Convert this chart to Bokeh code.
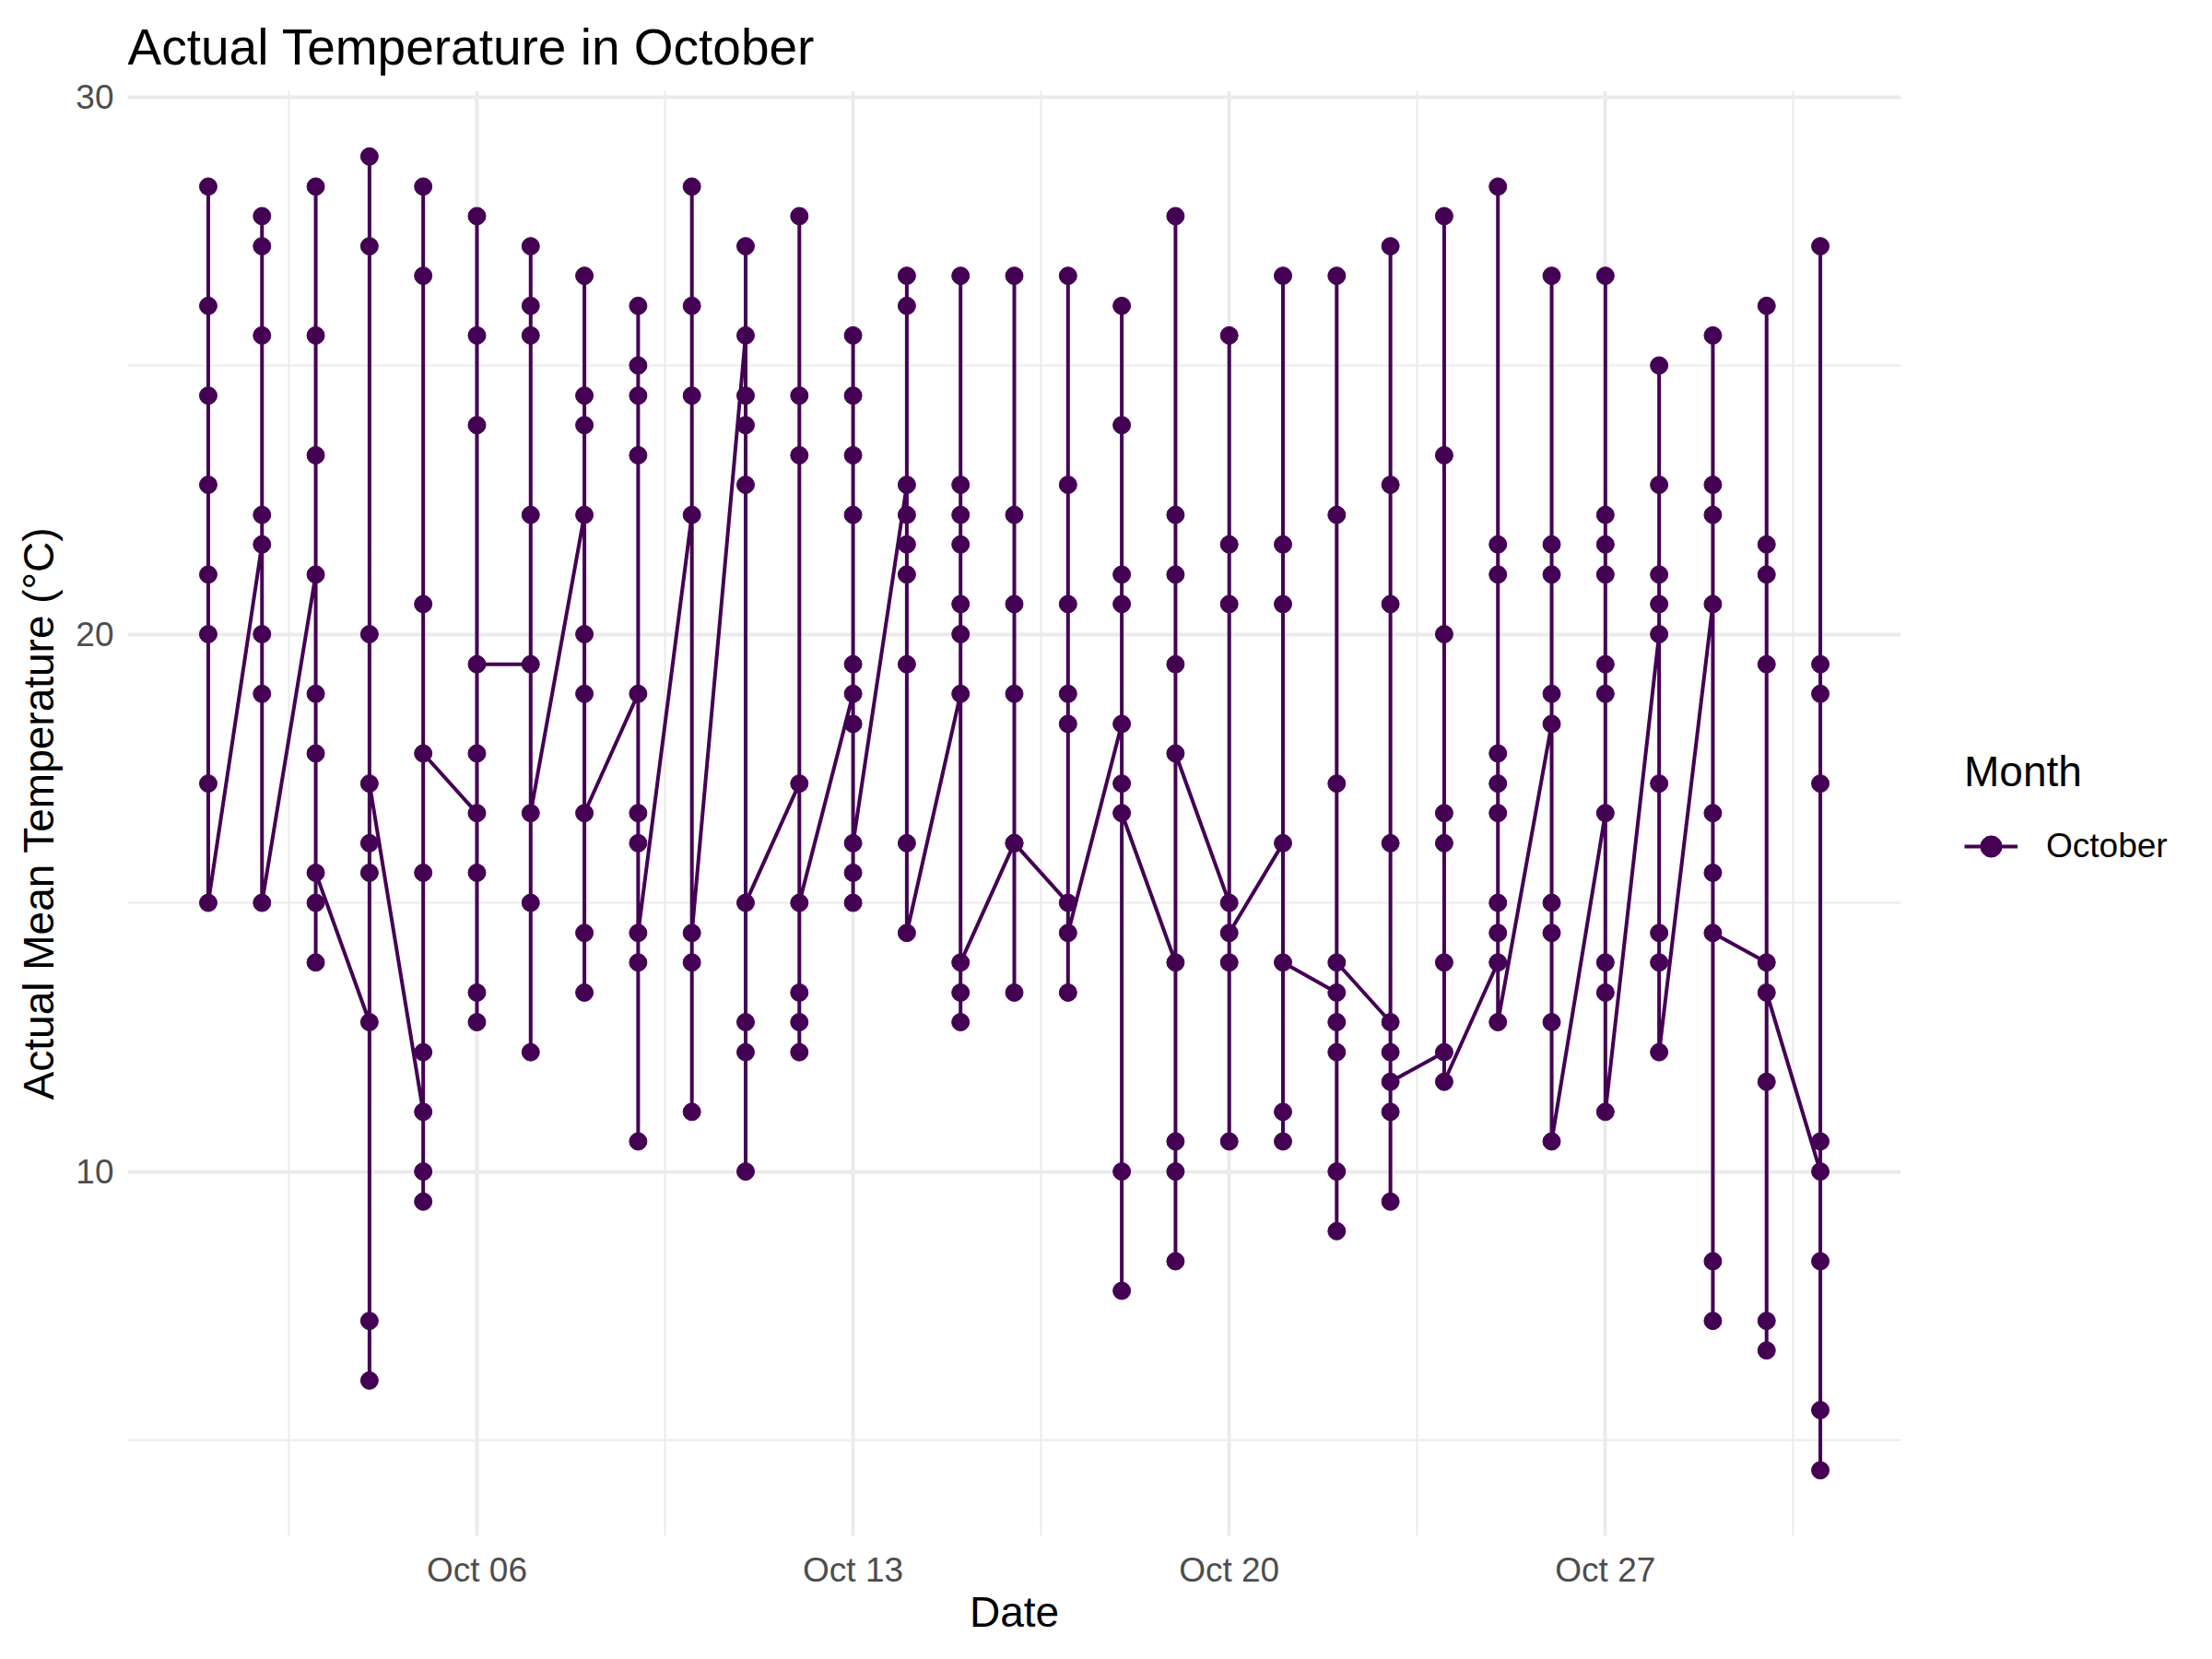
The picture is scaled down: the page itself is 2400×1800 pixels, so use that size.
from bokeh.plotting import figure
from bokeh.models import FixedTicker, Legend, LegendItem, Range1d, ColumnDataSource
from bokeh.embed import file_html
from bokeh.resources import INLINE

# Day of October for every observation (several years per day)
obs_day = [
    1, 1, 1, 1, 1, 1, 1, 1,
    2, 2, 2, 2, 2, 2, 2, 2,
    3, 3, 3, 3, 3, 3, 3, 3, 3,
    4, 4, 4, 4, 4, 4, 4, 4, 4,
    5, 5, 5, 5, 5, 5, 5, 5, 5,
    6, 6, 6, 6, 6, 6, 6, 6, 6,
    7, 7, 7, 7, 7, 7, 7, 7,
    8, 8, 8, 8, 8, 8, 8, 8, 8,
    9, 9, 9, 9, 9, 9, 9, 9, 9, 9,
    10, 10, 10, 10, 10, 10, 10,
    11, 11, 11, 11, 11, 11, 11, 11, 11,
    12, 12, 12, 12, 12, 12, 12, 12,
    13, 13, 13, 13, 13, 13, 13, 13, 13, 13,
    14, 14, 14, 14, 14, 14, 14, 14, 14,
    15, 15, 15, 15, 15, 15, 15, 15, 15, 15,
    16, 16, 16, 16, 16, 16, 16,
    17, 17, 17, 17, 17, 17, 17, 17,
    18, 18, 18, 18, 18, 18, 18, 18, 18,
    19, 19, 19, 19, 19, 19, 19, 19, 19,
    20, 20, 20, 20, 20, 20, 20,
    21, 21, 21, 21, 21, 21, 21,
    22, 22, 22, 22, 22, 22, 22, 22, 22,
    23, 23, 23, 23, 23, 23, 23, 23, 23,
    24, 24, 24, 24, 24, 24, 24, 24,
    25, 25, 25, 25, 25, 25, 25, 25, 25, 25,
    26, 26, 26, 26, 26, 26, 26, 26, 26,
    27, 27, 27, 27, 27, 27, 27, 27, 27, 27,
    28, 28, 28, 28, 28, 28, 28, 28, 28,
    29, 29, 29, 29, 29, 29, 29, 29, 29,
    30, 30, 30, 30, 30, 30, 30, 30, 30,
    31, 31, 31, 31, 31, 31, 31, 31, 31,
]

# Actual mean temperature (deg C), in data order
obs_temp_c = [
    28.33, 26.11, 24.44, 22.78, 21.11, 20.0, 17.22, 15.0,
    21.67, 27.78, 27.22, 25.56, 22.22, 20.0, 18.89, 15.0,
    21.11, 28.33, 25.56, 23.33, 18.89, 17.78, 15.0, 13.89, 15.56,
    12.78, 28.89, 27.22, 20.0, 16.11, 15.56, 7.22, 6.11, 17.22,
    11.11, 28.33, 26.67, 20.56, 15.56, 12.22, 10.0, 9.44, 17.78,
    16.67, 27.78, 25.56, 23.89, 17.78, 15.56, 13.33, 12.78, 19.44,
    19.44, 27.22, 26.11, 25.56, 22.22, 15.0, 12.22, 16.67,
    22.22, 26.67, 24.44, 23.89, 20.0, 18.89, 14.44, 13.33, 16.67,
    18.89, 26.11, 25.0, 24.44, 23.33, 16.67, 16.11, 13.89, 10.56, 14.44,
    22.22, 28.33, 26.11, 24.44, 13.89, 11.11, 14.44,
    25.56, 27.22, 24.44, 23.89, 22.78, 12.78, 12.22, 10.0, 15.0,
    17.22, 27.78, 24.44, 23.33, 13.33, 12.78, 12.22, 15.0,
    18.89, 25.56, 24.44, 23.33, 22.22, 19.44, 18.33, 15.56, 15.0, 16.11,
    22.78, 26.67, 26.11, 22.22, 21.67, 21.11, 19.44, 16.11, 14.44,
    18.89, 26.67, 22.78, 22.22, 21.67, 20.56, 20.0, 13.33, 12.78, 13.89,
    16.11, 26.67, 22.22, 20.56, 18.89, 13.33, 16.11,
    15.0, 26.67, 22.78, 20.56, 18.89, 18.33, 13.33, 14.44,
    18.33, 26.11, 23.89, 21.11, 20.56, 17.22, 10.0, 7.78, 16.67,
    13.89, 27.78, 22.22, 21.11, 19.44, 10.56, 10.0, 8.33, 17.78,
    15.0, 25.56, 21.67, 20.56, 13.89, 10.56, 14.44,
    16.11, 26.67, 21.67, 20.56, 11.11, 10.56, 13.89,
    13.33, 26.67, 22.22, 17.22, 12.78, 12.22, 10.0, 8.89, 13.89,
    12.78, 27.22, 22.78, 20.56, 16.11, 12.22, 11.11, 9.44, 11.67,
    12.22, 27.78, 23.33, 20.0, 16.67, 16.11, 13.89, 11.67,
    13.89, 28.33, 21.67, 21.11, 17.78, 17.22, 16.67, 15.0, 14.44, 12.78,
    18.33, 26.67, 21.67, 21.11, 18.89, 15.0, 14.44, 12.78, 10.56,
    16.67, 26.67, 22.22, 21.67, 21.11, 19.44, 18.89, 13.89, 13.33, 11.11,
    20.0, 25.0, 22.78, 21.11, 20.56, 17.22, 14.44, 13.89, 12.22,
    20.56, 25.56, 22.78, 22.22, 16.67, 15.56, 8.33, 7.22, 14.44,
    13.89, 26.11, 21.67, 21.11, 19.44, 11.67, 7.22, 6.67, 13.33,
    10.0, 27.22, 19.44, 18.89, 17.22, 10.56, 8.33, 5.56, 4.44,
]

month_label = "October"
x_tick_days = [6, 13, 20, 27]
x_tick_labels = ["Oct 06", "Oct 13", "Oct 20", "Oct 27"]
x_minor_days = [2.5, 9.5, 16.5, 23.5, 30.5]
y_ticks = [10, 20, 30]
y_minor_ticks = [5, 15, 25]

LINE_COLOR = "#440154"
GRID = "#EBEBEB"
FONT = "Liberation Sans"

src = ColumnDataSource(dict(day=obs_day, temp=obs_temp_c))

pad_x = (max(obs_day) - min(obs_day)) * 0.05
pad_y = (max(obs_temp_c) - min(obs_temp_c)) * 0.05

p = figure(
    frame_width=1924, frame_height=1568,
    output_backend="svg", toolbar_location=None,
    x_range=Range1d(min(obs_day) - pad_x, max(obs_day) + pad_x),
    y_range=Range1d(min(obs_temp_c) - pad_y, max(obs_temp_c) + pad_y),
    min_border_left=138, min_border_right=0,
    min_border_top=98, min_border_bottom=134,
)
p.outline_line_color = None
p.background_fill_color = "white"
p.border_fill_color = "white"

p.title.text = "Actual Temperature in October"
p.title.text_font = FONT
p.title.text_font_size = "55px"
p.title.text_font_style = "normal"
p.title.text_color = "black"
p.title.align = "left"
p.title.standoff = 34

xt = FixedTicker(ticks=x_tick_days, minor_ticks=x_minor_days)
yt = FixedTicker(ticks=y_ticks, minor_ticks=y_minor_ticks)
p.xaxis.ticker = xt
p.yaxis.ticker = yt
p.xgrid.ticker = xt
p.ygrid.ticker = yt
p.xaxis.major_label_overrides = {d: lab for d, lab in zip(x_tick_days, x_tick_labels)}

for ax in (p.xaxis[0], p.yaxis[0]):
    ax.axis_line_color = None
    ax.major_tick_line_color = None
    ax.minor_tick_line_color = None
    ax.major_label_text_font = FONT
    ax.major_label_text_font_size = "37px"
    ax.major_label_text_color = "#4D4D4D"
    ax.axis_label_text_font = FONT
    ax.axis_label_text_font_size = "46px"
    ax.axis_label_text_font_style = "normal"
    ax.axis_label_text_color = "black"

p.xaxis.axis_label = "Date"
p.yaxis.axis_label = "Actual Mean Temperature (°C)"
p.xaxis.major_label_standoff = 10
p.xaxis.axis_label_standoff = -4
p.yaxis.major_label_standoff = 9
p.yaxis.axis_label_standoff = 11

for g in (p.xgrid[0], p.ygrid[0]):
    g.grid_line_color = GRID
    g.grid_line_width = 4
    g.minor_grid_line_color = GRID
    g.minor_grid_line_width = 2

line_r = p.line("day", "temp", source=src, line_color=LINE_COLOR, line_width=4)
pts_r = p.scatter("day", "temp", source=src, size=19, fill_color=LINE_COLOR, line_color=LINE_COLOR)

legend = Legend(
    items=[LegendItem(label=month_label, renderers=[line_r, pts_r])],
    title="Month",
    location="center_left",
    title_text_font=FONT, title_text_font_size="46px", title_text_font_style="normal",
    title_text_color="black",
    label_text_font=FONT, label_text_font_size="37px", label_text_color="black",
    glyph_width=58, glyph_height=72, label_height=72, label_standoff=31,
    padding=0, margin=69, spacing=0, title_standoff=18,
    border_line_color=None, background_fill_alpha=0,
)
p.add_layout(legend, "right")

open("out.html", "w").write(file_html(p, INLINE))
